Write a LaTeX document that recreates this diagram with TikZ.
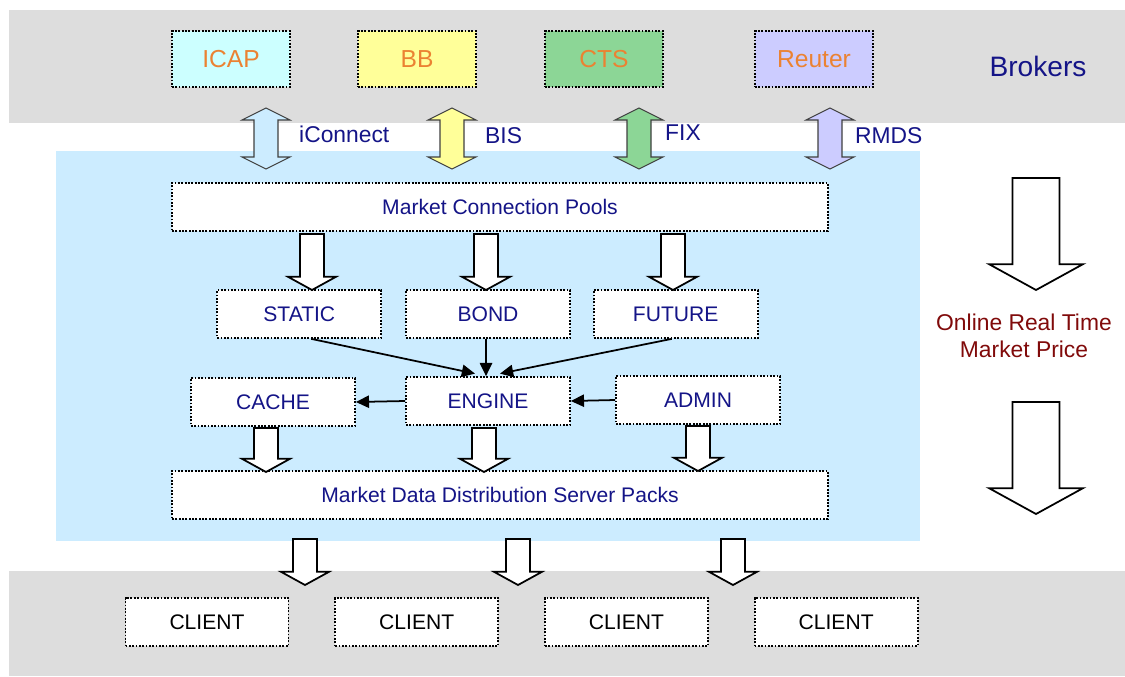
\documentclass[tikz,border=0pt]{standalone}
\usepackage{fontspec}
\setmainfont{Liberation Sans}
\usetikzlibrary{arrows.meta, positioning}
\definecolor{bandgray}{RGB}{221,221,221}
\definecolor{poolblue}{RGB}{204,236,255}
\definecolor{navytext}{RGB}{20,20,135}
\definecolor{brokertext}{RGB}{235,130,50}
\definecolor{pricered}{RGB}{128,10,10}
\definecolor{icapfill}{RGB}{204,255,255}
\definecolor{bbfill}{RGB}{255,255,153}
\definecolor{ctsfill}{RGB}{140,214,150}
\definecolor{reuterfill}{RGB}{204,204,255}
\tikzset{
    box/.style={draw, line width=1pt, dash pattern=on 1pt off 0.9pt, fill=white, minimum width=3.28cm, minimum height=0.96cm, text=navytext, font=\fontsize{12}{14}\selectfont},
    broker/.style={box, minimum width=2.36cm, minimum height=1.12cm, text=brokertext, font=\fontsize{14}{16}\selectfont},
    wide/.style={box, minimum width=13.12cm},
    client/.style={box, minimum width=3.26cm, text=black},
    link/.style={line width=1pt, -{Triangle[length=7.5pt, width=7pt]}},
    fat/.style={draw=black, line width=1pt, fill=white},
    twoway/.style={draw=black!75, line width=0.6pt},
    proto/.style={anchor=west, text=navytext, font=\fontsize{13}{15}\selectfont}
}
% block arrow pointing down: x, top, tip, half shaft width
\newcommand{\fatdown}[4]{%
    \draw[fat] ({#1-#4},#2) -- ({#1+#4},#2) -- ({#1+#4},{#3-1.1*#4}) -- ({#1+2*#4},{#3-1.1*#4}) -- (#1,#3)
        -- ({#1-2*#4},{#3-1.1*#4}) -- ({#1-#4},{#3-1.1*#4}) -- cycle;}
% block arrow both ways: x, top, bottom, fill
\newcommand{\fatboth}[4]{%
    \draw[twoway, fill=#4] (#1,#2) -- ({#1+24},{#2+12}) -- ({#1+12},{#2+12}) -- ({#1+12},{#3-12}) -- ({#1+24},{#3-12})
        -- (#1,#3) -- ({#1-24},{#3-12}) -- ({#1-12},{#3-12}) -- ({#1-12},{#2+12}) -- ({#1-24},{#2+12}) -- cycle;}
\begin{document}
\begin{tikzpicture}[x=0.02cm, y=-0.02cm]
    \useasboundingbox (0,0) rectangle (1125,676);

    % Backgrounds
    \fill[bandgray] (9,10) rectangle (1125,123);
    \fill[bandgray] (9,571) rectangle (1125,676);
    \fill[poolblue] (56,151) rectangle (920,541);

    % Brokers
    \node (ICAP) [broker, fill=icapfill] at (231,59) {ICAP};
    \node (BB) [broker, fill=bbfill] at (417,59) {BB};
    \node (CTS) [broker, fill=ctsfill] at (604,59) {CTS};
    \node (Reuter) [broker, fill=reuterfill] at (814,59) {Reuter};
    \node (Brokers) [text=navytext, font=\fontsize{16}{18}\selectfont] at (1038,66) {Brokers};

    % Protocols
    \fatboth{266}{108}{169}{poolblue}
    \fatboth{452}{108}{169}{bbfill}
    \fatboth{639}{108}{169}{ctsfill}
    \fatboth{830}{108}{169}{reuterfill}
    \node (iConnect) [proto] at (293,134) {iConnect};
    \node (BIS) [proto] at (479,136) {BIS};
    \node (FIX) [proto] at (659,133) {FIX};
    \node (RMDS) [proto] at (849,136) {RMDS};

    % Server
    \node (MCP) [wide] at (500,207) {Market Connection Pools};
    \node (BOND) [box] at (488,314) {BOND};
    \node (STATIC) [box, left=0.46cm of BOND] {STATIC};
    \node (FUTURE) [box, right=0.44cm of BOND] {FUTURE};
    \node (ENGINE) [box] at (488,401) {ENGINE};
    \node (CACHE) [box] at (273,402) {CACHE};
    \node (ADMIN) [box] at (698,400) {ADMIN};
    \node (MDDSP) [wide] at (500,495) {Market Data Distribution Server Packs};

    \fatdown{312}{234}{290}{12}
    \fatdown{486}{234}{290}{12}
    \fatdown{673}{234}{290}{12}
    \fatdown{266}{428}{472}{12}
    \fatdown{484}{428}{472}{12}
    \fatdown{698}{426}{471}{12}

    \draw[link] ([xshift=0.24cm]STATIC.south) -- ([xshift=-0.26cm, yshift=0.05cm]ENGINE.north);
    \draw[link] ([xshift=-0.04cm]BOND.south) -- ([xshift=-0.04cm]ENGINE.north);
    \draw[link] ([xshift=-0.08cm]FUTURE.south) -- ([xshift=0.24cm, yshift=0.05cm]ENGINE.north);
    \draw[link] (ENGINE.west) -- (CACHE.east);
    \draw[link] (ADMIN.west) -- (ENGINE.east);

    % Clients
    \fatdown{305}{539}{585}{12}
    \fatdown{518}{539}{585}{12}
    \fatdown{733}{539}{585}{12}
    \node (C1) [client] at (207,622) {CLIENT};
    \node (C2) [client, right=0.9cm of C1] {CLIENT};
    \node (C3) [client, right=0.9cm of C2] {CLIENT};
    \node (C4) [client, right=0.9cm of C3] {CLIENT};

    % Online price
    \fatdown{1036}{178}{290}{23.5}
    \fatdown{1036}{402}{514}{23.5}
    \node (Price) [text=pricered, align=center, font=\fontsize{13}{15.5}\selectfont] at (1024,336) {Online Real Time\\Market Price};
\end{tikzpicture}
\end{document}
